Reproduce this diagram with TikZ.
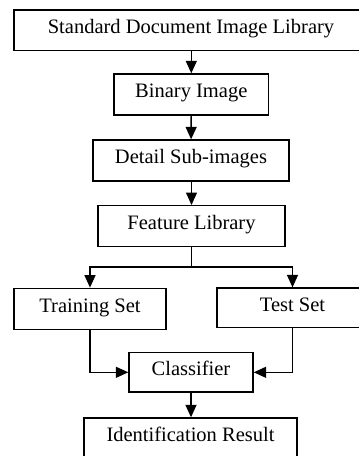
\documentclass[tikz,border=0pt]{standalone}
\usepackage{fontspec}
\setmainfont{Liberation Serif}
\usetikzlibrary{arrows.meta}
\begin{document}
\begin{tikzpicture}[x=1pt,y=-1pt,
  box/.style={draw,line width=1.4pt,inner sep=0pt,fill=white,
    font=\fontsize{20.5pt}{24pt}\selectfont,text height=0.66em,text depth=0pt},
  arr/.style={line width=1.4pt,-{Triangle[length=12.5pt,width=11pt]}},
  ln/.style={line width=1.4pt}]
\useasboundingbox (0,0) rectangle (359,456);
\clip (0,0) rectangle (359,456);
\fill[white] (0,0) rectangle (359,456);
\node[box,minimum width=354pt,minimum height=40.7pt] (std) at (191,30.3) {Standard Document Image Library};
\node[box,minimum width=154.7pt,minimum height=41pt] (bin) at (191.3,94.5) {Binary Image};
\node[box,minimum width=196pt,minimum height=41pt] (det) at (191,160.5) {Detail Sub-images};
\node[box,minimum width=187pt,minimum height=41pt] (feat) at (191.5,226.2) {Feature Library};
\node[box,minimum width=152pt,minimum height=41pt] (train) at (90,308.8) {Training Set};
\node[box,minimum width=151pt,minimum height=39.3pt] (test) at (292.5,307.7) {Test Set};
\node[box,minimum width=124pt,minimum height=39.3pt] (cls) at (191,372.3) {Classifier};
\node[box,minimum width=213pt,minimum height=41pt] (id) at (190.5,438.5) {Identification Result};
\coordinate (sp) at (191.5,267);
\draw[arr] (std.south -| bin.north) -- (bin.north);
\draw[arr] (bin) -- (det);
\draw[arr] (det.south -| feat.north) -- (feat.north);
\draw[ln] (feat) -- (sp);
\draw[arr] (sp) -| (train);
\draw[arr] (sp) -| (test);
\draw[arr] (train) |- (cls);
\draw[arr] (test) |- (cls);
\draw[arr] (cls) -- (cls |- id.north);
\end{tikzpicture}
\end{document}
